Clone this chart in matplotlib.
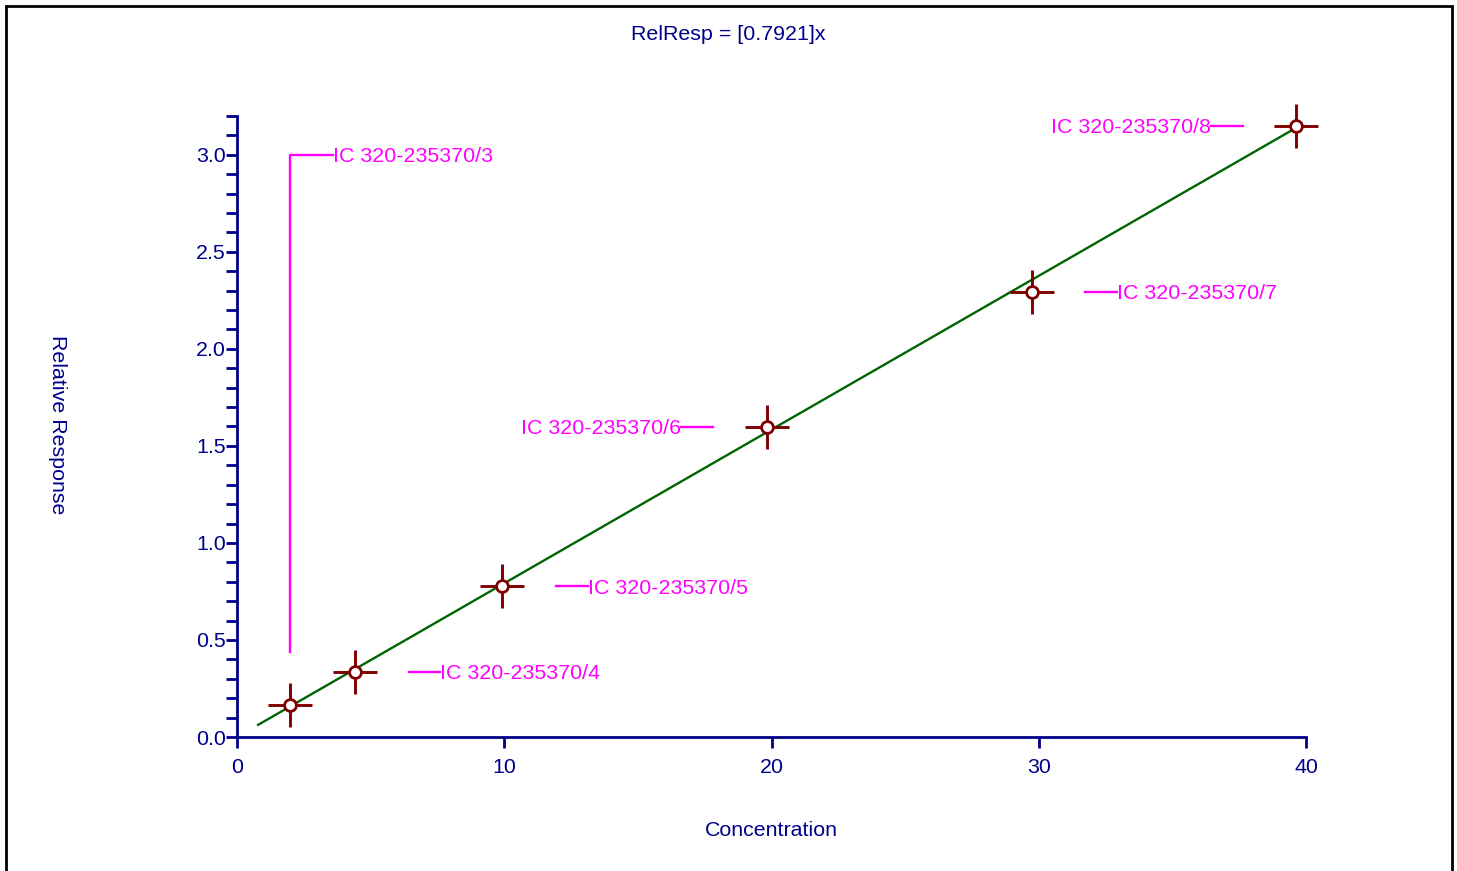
import matplotlib
matplotlib.use("Agg")
import matplotlib.pyplot as plt
from matplotlib.patches import Rectangle
from matplotlib.ticker import MultipleLocator, FuncFormatter
import numpy as np

plt.rcParams['font.family'] = ['Liberation Sans', 'DejaVu Sans']

# Data
concentration = [2.0, 4.41, 9.92, 19.83, 29.75, 39.63]
rel_response = [0.165, 0.335, 0.778, 1.598, 2.294, 3.149]
sample_labels = ["IC 320-235370/3", "IC 320-235370/4", "IC 320-235370/5",
                 "IC 320-235370/6", "IC 320-235370/7", "IC 320-235370/8"]
equation_text = "RelResp = [0.7921]x"
line_slope = 0.07921   # slope of the drawn fit line in plotted units
fit_x = [0.79, 39.63]

NAVY = '#00008B'
MAG = '#FF00FF'
DRED = '#800000'
GREEN = '#006400'
FS = 15.4

fig = plt.figure(figsize=(14.57, 8.71), dpi=100)
ax = fig.add_axes([237/1457, 1-737/871, (1306-237)/1457, (737-116)/871])

# fit line
fx = np.array(fit_x)
ax.plot(fx, line_slope*fx, color=GREEN, lw=1.7, zorder=2)

# points: cross + open circle
ax.plot(concentration, rel_response, ls='none', marker='+', ms=31, mew=2.1,
        color=DRED, zorder=3, clip_on=False)
ax.plot(concentration, rel_response, ls='none', marker='o', ms=8.5, mew=2.0,
        mec=DRED, mfc='white', zorder=4, clip_on=False)

# label annotations (text x, text y override, alignment, leader polyline)
label_layout = [
    (3.6, 3.0, 'left', [(2.0, 0.44), (2.0, 3.0), (3.6, 3.0)]),
    (7.6, None, 'left', [(6.44, None), (7.6, None)]),
    (13.13, None, 'left', [(11.94, None), (13.13, None)]),
    (16.61, None, 'right', [(16.61, None), (17.81, None)]),
    (32.93, None, 'left', [(31.73, None), (32.93, None)]),
    (36.45, None, 'right', [(36.45, None), (37.64, None)]),
]
for (tx, ty, ha, poly), lab, yv in zip(label_layout, sample_labels, rel_response):
    ty = yv if ty is None else ty
    px = [p[0] for p in poly]
    py = [yv if p[1] is None else p[1] for p in poly]
    ax.plot(px, py, color=MAG, lw=1.7, zorder=2, clip_on=False)
    ax.text(tx, ty, lab, color=MAG, fontsize=FS, ha=ha, va='center_baseline')

ax.set_xlim(0, 40)
ax.set_ylim(0, 3.2)
ax.xaxis.set_major_locator(MultipleLocator(10))
ax.yaxis.set_major_locator(MultipleLocator(0.5))
ax.yaxis.set_minor_locator(MultipleLocator(0.1))
ax.xaxis.set_major_formatter(FuncFormatter(lambda v, p: f"{v:.0f}"))
ax.yaxis.set_major_formatter(FuncFormatter(lambda v, p: f"{v:.1f}"))

for s in ['top', 'right']:
    ax.spines[s].set_visible(False)
for s in ['left', 'bottom']:
    ax.spines[s].set_color(NAVY)
    ax.spines[s].set_linewidth(2)
ax.tick_params(axis='both', colors=NAVY, labelsize=FS, width=2, direction='out')
ax.tick_params(axis='y', which='major', length=8, pad=0)
ax.tick_params(axis='y', which='minor', length=8, width=2, color=NAVY)
ax.tick_params(axis='x', which='major', length=8, pad=7)

fig.text(728/1457, 1-32/871, equation_text, color=NAVY, fontsize=FS,
         ha='center', va='center_baseline')
fig.text(771/1457, 1-828/871, "Concentration", color=NAVY, fontsize=FS,
         ha='center', va='center_baseline')
fig.text(57/1457, 1-425/871, "Relative Response", color=NAVY, fontsize=FS,
         ha='center', va='center', rotation=-90)

# outer border
fig.patches.append(Rectangle((6/1457, -0.05), (1452-6)/1457, 1.05-6/871,
                             transform=fig.transFigure, fill=False,
                             edgecolor='black', lw=2))

fig.savefig('out.png', dpi=100)
